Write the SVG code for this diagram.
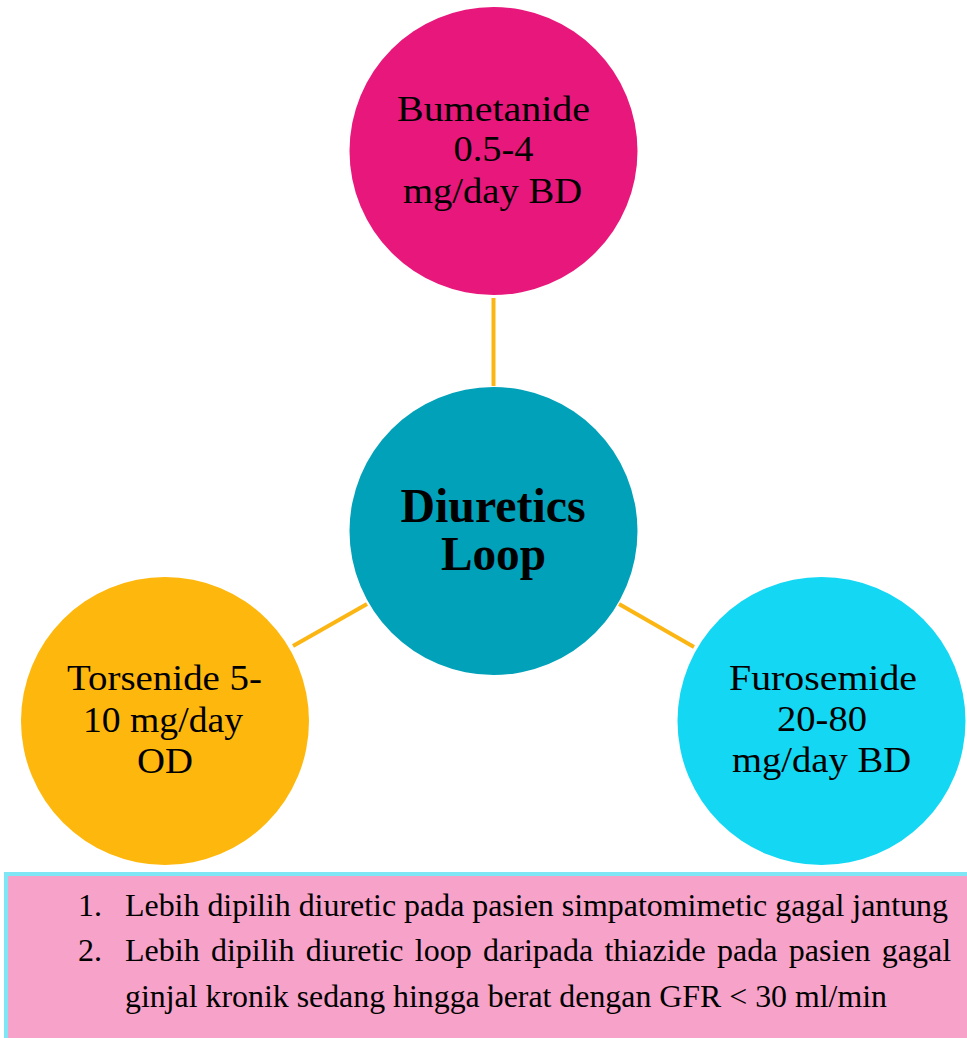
<svg xmlns="http://www.w3.org/2000/svg" width="967" height="1038" viewBox="0 0 967 1038">
<style>
.node-text{font-family:"Liberation Serif","Times New Roman",serif;font-size:36px;fill:#000;text-anchor:middle}
.center-text{font-family:"Liberation Serif","Times New Roman",serif;font-size:48px;font-weight:bold;fill:#000;text-anchor:middle}
.note{font-family:"Liberation Serif","Times New Roman",serif;font-size:32px;fill:#000}
.conn{stroke:#FBB614;stroke-width:4;fill:none}
</style>
<rect width="967" height="1038" fill="#ffffff"/>
<g id="connectors">
<line class="conn" x1="493.5" y1="298" x2="493.5" y2="386"/>
<line class="conn" x1="293" y1="646" x2="367" y2="604"/>
<line class="conn" x1="619" y1="604" x2="694" y2="647"/>
</g>
<g id="node-bumetanide">
<circle cx="493.5" cy="151" r="144" fill="#E8177B"/>
<text class="node-text" x="493.5" y="121" textLength="193" lengthAdjust="spacingAndGlyphs">Bumetanide</text>
<text class="node-text" x="493.5" y="161" textLength="80" lengthAdjust="spacingAndGlyphs">0.5-4</text>
<text class="node-text" x="492.5" y="203" textLength="179" lengthAdjust="spacingAndGlyphs">mg/day BD</text>
</g>
<g id="node-center">
<circle cx="493.5" cy="531" r="144" fill="#00A1B9"/>
<text class="center-text" x="493" y="522" textLength="185" lengthAdjust="spacingAndGlyphs">Diuretics</text>
<text class="center-text" x="493.5" y="570" textLength="105" lengthAdjust="spacingAndGlyphs">Loop</text>
</g>
<g id="node-torsenide">
<circle cx="165" cy="721" r="144" fill="#FDB70D"/>
<text class="node-text" x="164.5" y="690" textLength="195" lengthAdjust="spacingAndGlyphs">Torsenide 5-</text>
<text class="node-text" x="163" y="732" textLength="160" lengthAdjust="spacingAndGlyphs">10 mg/day</text>
<text class="node-text" x="165" y="773" textLength="56" lengthAdjust="spacingAndGlyphs">OD</text>
</g>
<g id="node-furosemide">
<circle cx="821.5" cy="721" r="144" fill="#13D7F3"/>
<text class="node-text" x="823" y="690" textLength="188" lengthAdjust="spacingAndGlyphs">Furosemide</text>
<text class="node-text" x="822" y="731" textLength="90" lengthAdjust="spacingAndGlyphs">20-80</text>
<text class="node-text" x="821.5" y="772" textLength="179" lengthAdjust="spacingAndGlyphs">mg/day BD</text>
</g>
<g id="note-box">
<rect x="6" y="874" width="970" height="170" fill="#F6A2C9" stroke="#7FE6F6" stroke-width="4"/>
<text class="note" x="78" y="916">1.</text>
<text class="note" x="125" y="916" textLength="823" lengthAdjust="spacingAndGlyphs">Lebih dipilih diuretic pada pasien simpatomimetic gagal jantung</text>
<text class="note" x="78" y="961">2.</text>
<text class="note" x="125" y="961" word-spacing="3.3">Lebih dipilih diuretic loop daripada thiazide pada pasien gagal</text>
<text class="note" x="125" y="1007" textLength="762" lengthAdjust="spacingAndGlyphs">ginjal kronik sedang hingga berat dengan GFR &lt; 30 ml/min</text>
</g>
</svg>
